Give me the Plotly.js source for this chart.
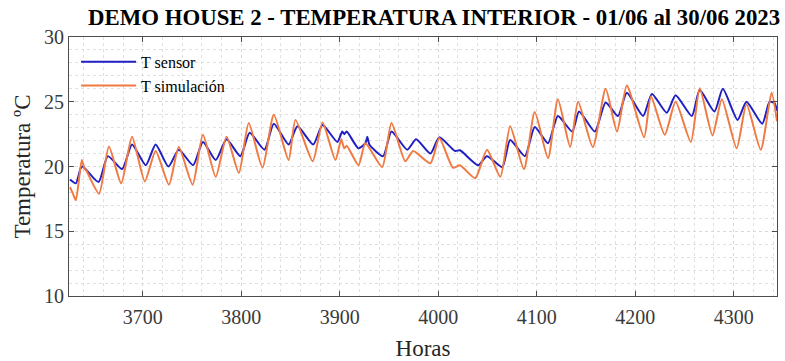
<!DOCTYPE html>
<html>
<head>
<meta charset="utf-8">
<script src="https://cdn.plot.ly/plotly-3.0.1.min.js"></script>
<style>
  html, body { margin: 0; padding: 0; background: #fff; }
  #chart { width: 785px; height: 361px; }
</style>
</head>
<body>
<div id="chart"></div>
<script>
// Hours (x) and temperatures (°C)
const sensorHours = [3626, 3632, 3637, 3639, 3655, 3664.5, 3679, 3689, 3703, 3713, 3726, 3736.5, 3751, 3761, 3774, 3785, 3799, 3808.5, 3823.5, 3833, 3848, 3857, 3873, 3882.5, 3897.5, 3902.5, 3904.5, 3907, 3919, 3926, 3928, 3930, 3944, 3952.5, 3968.5, 3977.5, 3992, 4001, 4017, 4022, 4040.5, 4049.5, 4065, 4073, 4088, 4098, 4111.5, 4121.5, 4136, 4143, 4159, 4170, 4182.5, 4191.5, 4208, 4217, 4232, 4241, 4257.5, 4265.5, 4280.5, 4289, 4304, 4313, 4329, 4336.5, 4341.5, 4344];
const sensorTemp  = [19.0, 18.7, 19.9, 20.0, 18.8, 20.8, 19.8, 21.7, 20.1, 21.7, 20.0, 21.3, 20.1, 21.9, 20.5, 22.1, 20.8, 22.6, 21.3, 23.3, 21.7, 23.1, 21.7, 23.2, 21.9, 22.7, 22.5, 22.7, 21.4, 21.8, 22.3, 21.7, 20.8, 22.7, 21.3, 22.1, 21.0, 22.25, 21.2, 21.25, 20.1, 20.8, 19.95, 22.05, 20.8, 23.05, 21.8, 23.9, 22.7, 24.25, 22.7, 24.95, 23.9, 25.7, 23.9, 25.6, 24.15, 25.5, 23.9, 25.9, 24.25, 26.0, 23.6, 25.0, 23.3, 25.0, 24.9, 24.3];

const simHours = [3626, 3629, 3632, 3638, 3641, 3642.5, 3655.5, 3665.5, 3678, 3689, 3702, 3713, 3726.5, 3736.5, 3750.5, 3761, 3774, 3785, 3797.5, 3807.5, 3821.5, 3833, 3848, 3855, 3872.5, 3882.5, 3895.5, 3901.5, 3904.5, 3907, 3919, 3926, 3943, 3952.5, 3966.5, 3974.5, 3992, 4001, 4015, 4022, 4037.5, 4049.5, 4063, 4073, 4087, 4098, 4111.5, 4121.5, 4134, 4142, 4157, 4170, 4181.5, 4191.5, 4209, 4216, 4230, 4241, 4256.5, 4265.5, 4278.5, 4288, 4303, 4313, 4327.5, 4338.5, 4344];
const simTemp  = [18.4, 17.9, 17.4, 20.5, 19.8, 19.7, 17.9, 21.55, 18.7, 22.3, 18.85, 21.2, 18.6, 21.5, 18.6, 22.45, 19.2, 22.3, 19.5, 23.35, 19.9, 24.0, 20.5, 23.6, 20.4, 23.4, 20.5, 22.1, 21.4, 21.6, 20.1, 21.8, 19.95, 23.35, 20.4, 21.2, 20.25, 22.2, 19.9, 20.1, 19.1, 21.3, 19.2, 23.1, 19.8, 24.2, 20.65, 25.2, 21.5, 25.0, 21.5, 26.0, 22.7, 26.25, 22.25, 25.4, 22.45, 25.0, 21.9, 26.05, 22.4, 25.2, 21.4, 24.8, 21.3, 25.7, 23.5];

const seriesNames = ['T sensor', 'T simulación'];
const xTicks = [3700, 3800, 3900, 4000, 4100, 4200, 4300];
const yTicks = [10, 15, 20, 25, 30];

const serif = 'Liberation Serif, Times New Roman, serif';
const axisColor = '#4d4d4d';

const traces = [
  { x: sensorHours, y: sensorTemp, name: seriesNames[0], type: 'scatter', mode: 'lines',
    line: { color: '#1f1fc4', width: 2, shape: 'spline', smoothing: 0.6 } },
  { x: simHours, y: simTemp, name: seriesNames[1], type: 'scatter', mode: 'lines',
    line: { color: '#f07a42', width: 2, shape: 'spline', smoothing: 0.6 } }
];

const layout = {
  width: 785, height: 361,
  margin: { l: 69, r: 8, t: 37, b: 65 },
  paper_bgcolor: '#ffffff', plot_bgcolor: '#ffffff',
  font: { family: serif, color: '#262626' },
  title: { text: '<b>DEMO HOUSE 2 - TEMPERATURA INTERIOR - 01/06 al 30/06 2023</b>',
           font: { family: serif, size: 22.8, color: '#000' },
           x: 0.553, xanchor: 'center', xref: 'container', y: 0.952, yanchor: 'middle' },
  showlegend: true,
  legend: { x: 0.01, y: 0.97, xanchor: 'left', yanchor: 'top',
            bgcolor: 'rgba(255,255,255,0)', borderwidth: 0,
            font: { family: serif, size: 16, color: '#000' },
            itemwidth: 55, tracegroupgap: 0 },
  xaxis: {
    range: [3625, 4344], tickvals: xTicks, ticktext: xTicks.map(String),
    ticks: 'inside', ticklen: 5, tickcolor: axisColor, mirror: 'ticks',
    showline: true, linecolor: axisColor, linewidth: 1,
    showgrid: true, gridcolor: '#d9d9d9', griddash: 'dot', gridwidth: 1,
    minor: { dtick: 20, tick0: 3700, showgrid: true, gridcolor: '#e0e0e0', griddash: 'dot', gridwidth: 1 },
    zeroline: false,
    tickfont: { family: serif, size: 20, color: '#3a3a3a' },
    ticklabelstandoff: 3,
    title: { text: 'Horas', font: { family: serif, size: 23, color: '#262626' }, standoff: 14 }
  },
  yaxis: {
    range: [10, 30], tickvals: yTicks, ticktext: yTicks.map(String),
    ticks: 'inside', ticklen: 5, tickcolor: axisColor, mirror: 'ticks',
    showline: true, linecolor: axisColor, linewidth: 1,
    showgrid: true, gridcolor: '#d9d9d9', griddash: 'dot', gridwidth: 1,
    minor: { dtick: 1, tick0: 10, showgrid: true, gridcolor: '#e0e0e0', griddash: 'dot', gridwidth: 1 },
    zeroline: false,
    tickfont: { family: serif, size: 20, color: '#3a3a3a' },
    title: { text: 'Temperatura ºC', font: { family: serif, size: 23, color: '#262626' }, standoff: 6 }
  }
};

Plotly.newPlot('chart', traces, layout, { staticPlot: true, displayModeBar: false });
</script>
</body>
</html>
